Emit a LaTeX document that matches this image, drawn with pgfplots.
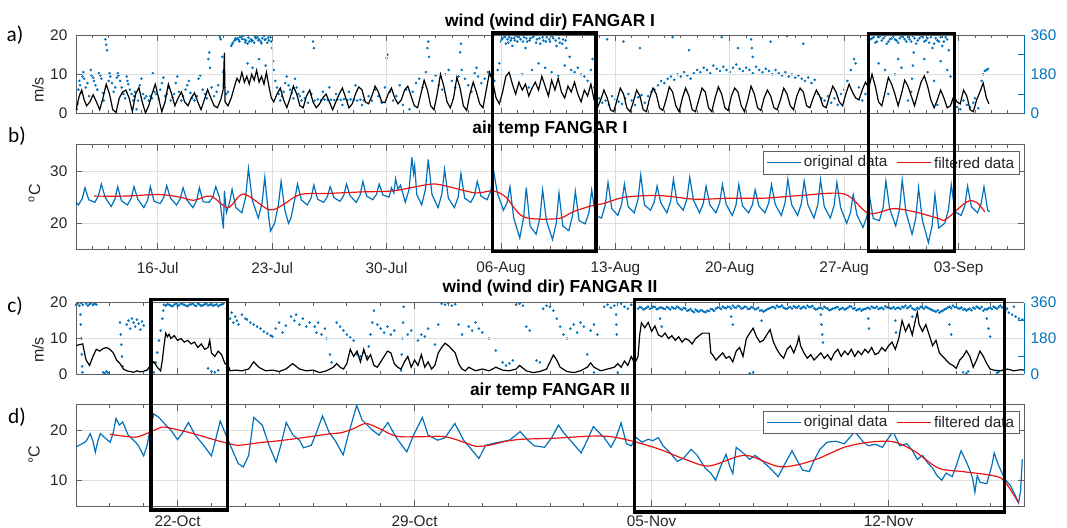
\documentclass[border=0pt]{standalone}
\usepackage{pgfplots}
\pgfplotsset{compat=1.18}
\usepackage{fontspec}
\setmainfont{Liberation Sans}
\newfontfamily\labelfont{Carlito}
\definecolor{mblue}{RGB}{0,114,189}
\definecolor{fred}{RGB}{235,20,20}
\definecolor{axgray}{RGB}{95,95,95}
\definecolor{gridgray}{RGB}{222,222,222}
\definecolor{labgray}{RGB}{38,38,38}

% legend of the temperature panels: frame, two line samples and their labels
\newcommand{\templegend}[1]{%
  \node[anchor=north east, draw=axgray, line width=0.5pt, fill=white,
        minimum height=17pt, minimum width=192pt, inner sep=0pt] (#1box) at (rel axis cs:0.9958,0.941) {};
  \draw[mblue, line width=0.9pt] ([xshift=3pt]#1box.west) -- ([xshift=28pt]#1box.west)
    node[right, inner sep=2pt, text=labgray, font=\fontsize{11.5}{13}\selectfont] (#1t) {original data};
  \draw[fred, line width=0.9pt] ([xshift=5pt]#1t.east) -- ([xshift=30pt]#1t.east)
    node[right, inner sep=2pt, text=labgray, font=\fontsize{11.5}{13}\selectfont] {filtered data};
}
\tikzset{ttl/.style={font=\bfseries\fontsize{13}{15}\selectfont, text=black}}
\pgfplotsset{
  panel/.style={
    scale only axis, width=711pt, anchor=north west,
    clip mode=individual,
    font=\fontsize{11.5}{13}\selectfont,
    /pgf/number format/assume math mode=true,
    axis line style={draw=axgray, line width=0.6pt},
    tick style={draw=axgray, line width=0.6pt},
    major tick length=4.5pt, minor tick length=2.5pt,
    tick label style={text=labgray},
    tick align=inside,
    grid style={draw=gridgray, line width=0.5pt},
  },
  leftax/.style={yticklabel style={xshift=-3pt}, xmajorgrids, ymajorgrids},
  days b/.style={xmin=-5, xmax=53, xtick={0,7,...,49}, minor xtick={-4,...,52}},
  days d/.style={xmin=-3, xmax=25, xtick={0,7,14,21}, minor xtick={-2,...,24}},
  dirax/.style={axis y line*=right, axis x line=none, xtick=\empty,
    ymin=0, ymax=360, ytick={0,90,...,360}, yticklabels={0,,180,,360},
    y axis line style={draw=mblue}, ytick style={draw=mblue},
    yticklabel style={text=mblue, xshift=1.5pt}},
  orig/.style={color=mblue, line width=0.9pt},
  filt/.style={color=fred, line width=0.9pt, smooth},
}

\begin{document}
\begin{tikzpicture}
\useasboundingbox (0,0) rectangle (800.25pt,396pt);

% ---------------- a) wind, FANGAR I ----------------
\begin{axis}[panel, dirax, xmin=-5, xmax=53, at={(57pt,369.75pt)}, height=59pt]
\addplot[only marks, mark=*, mark size=0.75pt, mblue] coordinates {
(-4.95,20)(-4.9,45)(-4.85,110)(-4.8,150)(-4.75,130)(-4.7,95)(-4.6,170)(-4.55,190)(-4.5,160)(-4.4,120)(-4.3,140)(-4.2,80)(-4.1,200)(-4.05,175)(-3.95,165)(-3.9,150)(-3.8,130)(-3.7,110)(-3.6,185)(-3.5,175)(-3.45,160)(-3.35,95)(-3.3,60)(-3.2,340)(-3.15,315)(-3.1,290)(-3.0,150)(-2.95,185)(-2.9,170)(-2.8,140)(-2.7,100)(-2.6,120)(-2.5,165)(-2.45,185)(-2.4,175)(-2.3,150)(-2.2,120)(-2.1,90)(-2.0,70)(-1.9,170)(-1.85,150)(-1.8,135)(-1.7,110)(-1.6,90)(-1.5,60)(-1.45,80)(-1.4,100)(-1.3,20)(-1.2,60)(-1.1,130)(-1.0,160)(-0.9,90)(-0.8,70)(-0.7,80)(-0.55,60)(-0.45,80)(-0.35,70)(-0.3,185)(-0.2,100)(-0.1,90)(0.05,70)(0.15,110)(0.25,140)(0.35,165)(0.45,80)(0.55,90)(0.65,120)(0.8,60)(0.9,75)(1.0,90)(1.1,140)(1.2,170)(1.3,100)(1.45,60)(1.55,80)(1.7,110)(1.8,130)(1.9,150)(2.0,95)(2.1,70)(2.25,60)(2.4,80)(2.5,160)(2.6,175)(2.75,110)(2.9,90)(3.0,70)(3.1,250)(3.15,280)(3.2,210)(3.3,120)(3.45,80)(3.6,100)(3.7,130)(3.8,350)(3.85,340)(3.95,260)(4.0,190)(4.1,120)(4.2,90)(4.3,100)
(4.5,310)(4.6,325)(4.7,335)(4.8,340)(4.9,345)(5.0,330)(5.1,350)(5.2,355)(5.3,340)(5.4,335)(5.5,320)(5.6,330)(5.7,340)(5.8,335)(5.9,325)(6.0,345)(6.1,350)(6.2,340)(6.3,330)(6.4,345)(6.5,355)(6.6,340)(6.7,325)(6.8,335)(6.9,350)(7.0,300)(5.5,230)(5.8,210)(6.2,250)(6.6,220)(7.05,240)(7.1,200)
(4.55,318)(4.75,345)(4.95,338)(5.15,342)(5.35,326)(5.55,348)(5.75,332)(5.95,352)(6.15,336)(6.35,322)(6.55,338)(6.75,348)(6.95,330)
(7.2,150)(7.3,120)(7.4,90)(7.5,60)(7.6,80)(7.7,100)(7.8,140)(7.9,170)(8.0,130)(8.1,110)(8.2,95)(8.3,70)(8.4,160)(8.5,120)(8.6,90)(8.7,80)(8.8,60)(8.9,100)
(9.0,70)(9.2,50)(9.4,90)(9.5,330)(9.55,300)(9.6,60)(9.8,65)(10.0,62)(10.2,65)(10.4,63)(10.6,64)(10.8,62)(11.0,65)(11.2,63)(11.4,66)(11.6,62)(11.8,65)(12.0,63)(12.2,60)(12.4,64)(12.6,61)(10.1,100)(10.5,120)(10.9,90)(11.3,40)(11.7,100)(12.1,130)(12.5,40)(12.9,80)(13.1,60)(13.3,110)
(13.5,80)(13.7,50)(13.9,120)(14.0,255)(14.05,270)(14.2,100)(14.4,60)(14.6,80)(14.8,130)(15.0,40)(15.2,110)(15.4,20)
(15.6,100)(15.8,140)(16.0,160)(16.2,120)(16.4,190)(16.5,300)(16.55,330)(16.6,260)(16.8,150)(17.0,175)(17.2,130)(17.4,110)(17.6,180)(17.8,200)(18.0,150)(18.2,120)(18.4,170)(18.5,280)(18.55,320)(18.6,200)(18.8,160)(19.0,130)(19.2,100)(19.4,185)(19.5,210)(19.6,170)(19.8,140)(20.0,160)(20.2,190)(20.4,180)(20.6,150)(20.8,200)(20.9,230)
(21.0,330)(21.1,345)(21.2,355)(21.3,320)(21.4,340)(21.5,350)(21.6,335)(21.7,310)(21.8,345)(21.9,355)(22.0,330)(22.2,340)(22.4,350)(22.5,300)(22.6,330)(22.8,345)(23.0,355)(23.2,340)(23.4,320)(23.6,335)(23.8,350)(24.0,330)(24.2,345)(24.4,310)(24.6,325)(24.8,340)(25.0,300)(25.2,260)(22.3,180)(22.9,200)(23.3,230)(23.7,210)(24.1,190)(24.5,175)(24.9,220)(25.3,200)(25.5,190)(25.7,210)(25.9,180)(26.1,170)(26.3,150)(26.5,200)(26.6,250)(26.7,120)(26.8,60)(26.9,40)(22.7,120)(23.9,90)
(21.05,340)(21.25,350)(21.45,325)(21.65,345)(21.85,335)(22.1,350)(22.35,330)(22.55,345)(22.75,335)(22.95,350)(23.15,325)(23.35,345)(23.55,350)(23.75,330)(23.95,340)(24.15,355)(24.35,335)(24.55,345)(24.75,320)(24.95,335)
(27.0,70)(27.2,50)(27.4,60)(27.6,40)(27.8,80)(28.0,65)(28.2,55)(28.4,45)(28.6,70)(28.8,90)(29.0,60)(29.2,40)(29.4,75)(29.6,85)(29.8,50)(27.5,340)(28.5,330)(29.5,300)
(30.0,80)(30.2,100)(30.4,110)(30.6,130)(30.8,150)(31.0,140)(31.2,160)(31.4,170)(31.6,155)(31.8,180)(32.0,170)(32.2,190)(32.4,175)(32.6,160)(32.8,185)(33.0,200)(31.5,350)(32.5,290)
(33.2,190)(33.4,210)(33.6,200)(33.8,185)(34.0,220)(34.2,205)(34.4,195)(34.6,215)(34.8,200)(35.0,190)(35.2,210)(35.4,225)(35.6,205)(35.8,195)(36.0,210)(36.2,200)(36.4,185)(36.6,215)(36.8,200)(37.0,190)(37.2,205)(37.4,195)(37.6,180)(37.8,200)(38.0,185)(38.2,175)(38.4,190)(38.6,170)(38.8,180)(39.0,165)(39.2,175)(39.4,160)(39.6,150)(39.8,165)(40.0,140)(40.2,155)(34.5,350)(35.5,300)(36.3,340)(36.35,300)(36.4,260)(37.5,330)(38.5,355)(39.5,320)(40.4,90)(40.6,70)
(40.8,60)(41.0,80)(41.2,50)(41.4,70)(41.6,40)(41.8,90)(42.0,110)(42.2,150)(42.4,200)(42.6,250)(42.7,230)(42.9,120)(43.1,60)(43.3,90)
(43.6,340)(43.8,350)(44.0,330)(44.2,355)(44.4,345)(44.6,320)(44.8,340)(45.0,355)(45.2,335)(45.4,345)(45.6,350)(45.8,330)(46.0,340)(46.2,355)(46.4,320)(46.6,345)(46.8,350)(47.0,335)(47.2,325)(47.4,300)(47.6,345)(47.8,330)(48.0,310)(48.2,350)(48.4,290)(44.1,230)(44.5,200)(45.1,180)(45.3,250)(45.5,210)(46.1,100)(46.15,160)(46.2,220)(46.25,280)(46.9,250)(47.1,190)(47.5,150)(47.9,240)(48.3,200)(48.5,170)(44.7,90)(45.9,60)(47.7,40)
(43.7,345)(43.9,325)(44.1,350)(44.3,335)(44.5,355)(44.7,330)(44.9,345)(45.1,340)(45.3,325)(45.5,355)(45.7,340)(45.9,350)(46.1,330)(46.3,345)(46.5,335)(46.7,355)(46.9,330)(47.1,345)(47.3,350)(47.5,320)(47.7,335)(47.9,350)(48.1,330)(48.3,340)
(48.7,50)(48.9,30)(49.1,20)(49.3,60)(49.5,40)(49.7,30)(49.9,50)(50.0,70)(50.2,25)(50.4,150)(50.5,180)(50.6,195)(50.7,200)(50.8,205)
};
\end{axis}

\begin{axis}[panel, leftax, days b, at={(57pt,369.75pt)}, height=59pt,
  axis y line*=left, ymin=0, ymax=20, ytick={0,10,20}, xticklabels={}]
\addplot[black, line width=0.9pt] coordinates {
(-5.0,1.0)(-4.8,4.5)(-4.65,6.0)(-4.5,3.5)(-4.35,2.0)(-4.15,3.0)(-3.95,4.8)(-3.75,3.0)(-3.55,1.0)(-3.35,4.0)(-3.15,7.5)(-2.95,5.0)(-2.75,1.0)(-2.55,0.3)(-2.35,4.0)(-2.15,5.5)(-1.95,6.0)(-1.75,4.0)(-1.55,0.5)(-1.35,5.0)(-1.15,6.6)(-0.95,3.0)(-0.75,0.2)(-0.55,2.0)(-0.35,5.0)(-0.15,7.5)(0.05,4.0)(0.25,0.5)(0.45,3.0)(0.65,7.5)(0.85,5.0)(1.05,2.0)(1.25,4.0)(1.45,5.5)(1.65,3.0)(1.85,2.0)(2.05,4.0)(2.25,5.3)(2.45,3.0)(2.65,1.0)(2.85,3.5)(3.05,6.1)(3.25,4.0)(3.45,2.0)(3.65,1.5)(3.85,3.5)(4.0,6.0)(4.08,15.5)(4.12,3.0)(4.3,2.0)(4.5,4.0)(4.7,7.0)(4.85,9.0)(5.0,8.0)(5.15,10.5)(5.3,8.0)(5.45,9.5)(5.6,7.5)(5.75,10.0)(5.9,8.5)(6.05,11.0)(6.2,8.0)(6.35,9.5)(6.5,7.5)(6.65,10.5)(6.8,7.0)(6.95,4.0)(7.1,3.0)(7.3,5.0)(7.5,6.5)(7.7,3.5)(7.9,1.5)(8.1,4.0)(8.3,7.0)(8.5,5.0)(8.7,2.0)(8.9,1.5)(9.1,4.5)(9.3,6.0)(9.5,3.0)(9.7,1.5)(9.9,2.5)(10.1,4.0)(10.3,5.0)(10.5,3.0)(10.7,1.0)(10.9,3.0)(11.1,5.0)(11.3,6.5)(11.5,4.0)(11.7,1.5)(11.9,2.5)(12.1,5.0)(12.3,6.8)(12.5,6.0)(12.7,3.0)(12.9,2.5)(13.1,4.5)(13.3,7.0)(13.5,5.5)(13.7,3.0)(13.9,2.8)(14.1,5.0)(14.3,6.5)(14.5,4.0)(14.7,2.5)(14.9,3.5)(15.1,6.0)(15.3,7.0)(15.5,4.5)(15.7,2.0)(15.9,1.5)(16.1,5.0)(16.3,8.5)(16.5,6.0)(16.7,2.0)(16.9,1.0)(17.1,5.0)(17.3,10.0)(17.5,7.0)(17.7,3.0)(17.9,1.5)(18.1,4.0)(18.3,9.2)(18.5,6.5)(18.7,2.0)(18.9,0.8)(19.1,5.0)(19.3,8.0)(19.5,5.5)(19.7,2.5)(19.9,1.5)(20.1,6.0)(20.3,10.5)(20.5,8.0)(20.7,4.0)(20.9,2.5)
(21.1,5.5)(21.3,9.5)(21.5,10.5)(21.7,7.5)(21.9,5.0)(22.1,8.0)(22.3,6.0)(22.5,7.5)(22.7,4.5)(22.9,6.5)(23.1,8.0)(23.3,6.0)(23.5,9.5)(23.7,7.0)(23.9,4.5)(24.1,8.5)(24.3,6.0)(24.5,9.0)(24.7,5.5)(24.9,4.0)(25.1,7.0)(25.3,5.5)(25.5,8.0)(25.7,5.0)(25.9,3.0)(26.1,6.0)(26.3,4.5)(26.5,7.5)(26.7,3.5)(26.9,1.5)(27.1,3.5)(27.3,6.0)(27.5,4.0)(27.7,1.0)(27.9,0.5)(28.1,3.5)(28.3,6.5)(28.5,5.0)(28.7,1.5)(28.9,0.5)(29.1,3.0)(29.3,6.0)(29.5,4.5)(29.7,1.0)(29.9,0.5)(30.1,4.0)(30.3,6.5)(30.5,5.0)(30.7,1.5)(30.9,0.8)(31.1,3.5)(31.3,6.8)(31.5,5.5)(31.7,2.0)(31.9,0.5)(32.1,4.0)(32.3,6.5)(32.5,4.5)(32.7,1.0)(32.9,0.5)(33.1,3.5)(33.3,6.5)(33.5,5.5)(33.7,1.5)(33.9,0.5)(34.1,4.0)(34.3,6.8)(34.5,5.0)(34.7,1.5)(34.9,0.8)(35.1,4.5)(35.3,6.5)(35.5,5.5)(35.7,2.0)(35.9,0.5)(36.1,3.5)(36.3,7.0)(36.5,5.0)(36.7,1.5)(36.9,0.8)(37.1,4.0)(37.3,6.0)(37.5,4.5)(37.7,1.5)(37.9,1.0)(38.1,3.5)(38.3,6.5)(38.5,5.0)(38.7,2.0)(38.9,1.0)(39.1,4.5)(39.3,6.5)(39.5,5.5)(39.7,2.0)(39.9,1.5)(40.1,4.0)(40.3,6.0)(40.5,4.5)(40.7,2.0)(40.9,1.5)(41.1,4.5)(41.3,7.0)(41.5,5.5)(41.7,3.0)(41.9,2.0)(42.1,5.0)(42.3,7.5)(42.5,5.5)(42.7,4.0)(42.9,3.5)(43.1,6.0)(43.3,8.0)(43.5,6.5)(43.7,10.0)(43.9,7.0)(44.1,3.0)(44.3,2.0)(44.5,5.5)(44.7,9.2)(44.9,7.5)(45.1,5.0)(45.3,2.0)(45.5,5.0)(45.7,8.5)(45.9,7.0)(46.1,4.5)(46.3,2.0)(46.5,5.0)(46.7,8.0)(46.9,9.6)(47.1,7.0)(47.3,3.5)(47.5,1.5)(47.7,3.5)(47.9,6.0)(48.1,4.0)(48.3,1.5)(48.5,2.0)(48.7,4.5)(48.9,3.0)(49.1,2.5)(49.3,6.0)(49.5,4.5)(49.7,1.0)(49.9,0.5)(50.1,3.5)(50.3,5.5)(50.5,7.8)(50.7,4.0)(50.85,2.5)
};
\node[ttl] at (rel axis cs:0.5,1) [yshift=9.75pt] {wind (wind dir) FANGAR I};
\end{axis}

% ---------------- b) air temperature, FANGAR I ----------------
\begin{axis}[panel, leftax, days b, at={(57pt,287.4pt)}, height=78.5pt,
  xticklabel style={yshift=-6pt},
  ymin=15, ymax=35, ytick={20,30},
  xticklabels={16-Jul,23-Jul,30-Jul,06-Aug,13-Aug,20-Aug,27-Aug,03-Sep}]
\addplot[orig] coordinates {
(-5.00,24.0)(-4.85,23.5)(-4.62,24.7)(-4.45,26.8)(-4.22,24.5)(-3.85,24.0)(-3.62,25.3)(-3.45,27.5)(-3.22,25.0)(-2.85,23.2)(-2.62,24.6)(-2.45,27.0)(-2.22,24.3)(-1.85,23.5)(-1.62,24.8)(-1.45,27.0)(-1.22,24.6)(-0.85,23.0)(-0.62,24.4)(-0.45,27.0)(-0.22,24.2)
(0.15,23.8)(0.38,25.0)(0.55,27.2)(0.78,24.8)(1.15,23.5)(1.38,24.7)(1.55,26.8)(1.78,24.5)(2.15,23.0)(2.38,24.3)(2.55,26.8)(2.78,24.1)(3.15,24.0)(3.38,25.1)(3.55,27.0)(3.78,24.9)
(4.02,19.0)(4.08,26.2)(4.20,22.0)(4.40,24.0)(4.55,26.5)(4.78,23.0)(5.15,22.0)(5.38,25.0)(5.55,30.5)(5.78,24.5)(6.15,21.0)(6.38,23.8)(6.55,28.8)(6.78,21.5)(6.90,18.5)(7.15,20.0)(7.38,23.5)(7.55,28.0)(7.78,22.5)(8.00,20.0)(8.15,21.0)(8.38,24.5)(8.55,27.5)(8.78,24.5)
(9.15,23.5)(9.38,24.8)(9.55,27.3)(9.78,24.6)(10.15,24.0)(10.38,25.1)(10.55,27.0)(10.78,24.9)(11.15,24.2)(11.38,25.3)(11.55,27.5)(11.78,25.2)(12.15,24.0)(12.38,25.4)(12.55,28.0)(12.78,25.2)(13.15,24.5)(13.38,25.5)(13.55,27.5)(13.78,25.4)
(14.15,25.0)(14.30,26.8)(14.45,25.8)(14.55,28.5)(14.70,26.5)(14.85,27.3)(15.15,24.0)(15.38,26.5)(15.55,32.6)(15.65,29.5)(15.72,31.0)(15.85,25.5)(16.15,23.5)(16.38,26.5)(16.55,32.2)(16.78,25.5)(17.15,23.0)(17.38,25.5)(17.55,30.3)(17.78,24.8)(18.15,23.0)(18.38,25.0)(18.55,29.5)(18.78,24.8)(19.15,24.0)(19.38,25.3)(19.55,28.0)(19.78,25.2)(20.15,24.5)(20.38,26.2)(20.55,30.0)(20.78,25.8)
(21.15,22.5)(21.38,24.0)(21.55,27.0)(21.78,21.0)(22.15,17.2)(22.38,21.0)(22.55,26.8)(22.78,19.5)(23.15,17.9)(23.38,21.0)(23.55,26.4)(23.78,20.5)(24.15,16.9)(24.38,20.0)(24.55,25.8)(24.78,19.5)(25.15,18.6)(25.38,21.5)(25.55,26.1)(25.78,20.5)(26.15,19.9)(26.38,22.0)(26.55,26.4)(26.78,21.5)
(27.15,21.0)(27.38,23.5)(27.55,27.8)(27.78,22.8)(28.15,21.5)(28.38,23.6)(28.55,27.5)(28.78,23.2)(29.15,22.0)(29.38,24.5)(29.55,29.2)(29.78,23.5)(30.15,22.5)(30.38,24.1)(30.55,27.1)(30.78,23.9)(31.15,22.0)(31.38,24.2)(31.55,28.4)(31.78,23.9)(32.15,22.5)(32.38,24.7)(32.55,28.8)(32.78,24.4)
(33.15,22.0)(33.38,23.8)(33.55,27.1)(33.78,23.5)(34.15,22.0)(34.38,23.9)(34.55,27.4)(34.78,23.6)(35.15,21.5)(35.38,23.5)(35.55,27.4)(35.78,23.3)(36.15,22.0)(36.38,23.5)(36.55,26.4)(36.78,23.3)(37.15,22.0)(37.38,23.9)(37.55,27.4)(37.78,23.6)(38.15,21.5)(38.38,23.9)(38.55,28.4)(38.78,23.6)
(39.15,21.5)(39.38,23.8)(39.55,28.1)(39.78,23.5)(40.15,21.0)(40.38,23.5)(40.55,28.3)(40.78,23.2)(41.15,21.0)(41.38,23.4)(41.55,27.8)(41.78,23.0)(42.15,20.0)(42.38,22.0)(42.55,25.5)(42.78,21.6)(43.15,19.2)(43.38,21.2)(43.55,25.1)(43.78,20.9)
(44.15,20.5)(44.38,23.0)(44.55,28.1)(44.78,22.8)(45.15,19.5)(45.38,22.6)(45.55,28.3)(45.78,22.1)(46.15,17.9)(46.38,21.0)(46.55,26.8)(46.78,20.6)(47.15,16.3)(47.38,19.6)(47.55,25.5)(47.78,19.1)(48.15,20.0)(48.38,22.6)(48.55,27.4)(48.78,22.2)(49.15,21.5)(49.38,23.4)(49.55,27.1)(49.78,23.2)(50.15,22.0)(50.38,23.8)(50.55,27.0)(50.78,22.5)(50.90,22.2)
};
\addplot[filt] coordinates {
(-3.9,25.2)(-2.0,25.2)(0.1,25.5)(1.35,25.0)(2.2,24.4)(3.25,25.2)(4.3,23.0)(5.25,25.6)(6.8,22.6)(7.65,23.5)(8.7,25.5)(10.4,25.7)(12.5,26.0)(14.4,26.2)(16.3,27.3)(17.0,27.5)(17.8,27.0)(19.45,25.8)(20.5,26.2)(21.3,25.0)(22.4,21.2)(24.5,20.9)(25.4,22.2)(26.5,23.3)(27.3,23.8)(28.6,25.0)(30.7,25.3)(32.9,24.6)(35.0,24.8)(37.1,24.8)(39.3,25.3)(42.0,25.6)(43.5,21.9)(45.0,22.8)(46.3,22.2)(47.8,20.9)(48.2,20.7)(49.5,24.1)(50.1,24.0)(50.6,22.2)
};
\templegend{lb}
\node[ttl] at (rel axis cs:0.5,1) [yshift=12.2pt] {air temp FANGAR I};
\coordinate (r1a) at (axis cs:20.47,14.6);
\coordinate (r1b) at (axis cs:26.8,56.4);
\coordinate (r2a) at (axis cs:43.5,14.6);
\coordinate (r2b) at (axis cs:48.75,56.3);
\end{axis}

% ---------------- c) wind, FANGAR II ----------------
\begin{axis}[panel, dirax, xmin=-3, xmax=25, at={(57pt,169.0pt)}, height=53.8pt]
\addplot[only marks, mark=*, mark size=0.75pt, mblue] coordinates {
(-3.0,350)(-2.95,355)(-2.9,345)(-2.85,358)(-2.8,350)(-2.7,355)(-2.65,345)(-2.6,352)(-2.55,358)(-2.5,348)(-2.45,355)(-2.4,350)(-2.87,300)(-2.86,250)(-2.84,180)(-2.83,100)(-2.82,40)(-2.81,10)(-2.2,10)(-2.15,5)(-2.1,15)(-2.05,8)(-1.7,260)(-1.68,200)(-1.66,150)(-1.64,90)(-1.62,40)
(-1.5,250)(-1.45,270)(-1.4,230)(-1.35,280)(-1.3,260)(-1.25,240)(-1.2,275)(-1.15,255)(-1.1,225)(-1.05,265)(-1.0,245)(-0.7,10)(-0.65,60)(-0.6,110)(-0.55,170)(-0.5,220)(-0.45,280)(-0.42,320)(-0.4,350)
(-0.35,345)(-0.25,350)(-0.15,342)(-0.05,355)(0.05,348)(0.15,352)(0.25,345)(0.35,350)(0.45,355)(0.55,343)(0.65,350)(0.75,347)(0.85,355)(0.95,350)(1.05,345)(1.15,352)(1.25,348)(1.35,355)(0.9,30)(1.0,15)(1.1,10)(1.2,20)
(-0.3,352)(-0.2,346)(-0.1,350)(0.0,344)(0.1,356)(0.2,349)(0.3,342)(0.4,351)(0.5,347)(0.6,355)(0.7,344)(0.8,351)(0.9,346)(1.0,353)(1.1,348)(1.2,342)(1.3,350)
(1.45,330)(1.5,300)(1.55,280)(1.6,310)(1.65,260)(1.7,290)(1.75,270)(1.8,250)(1.9,300)(2.0,280)(2.05,275)(2.15,260)(2.25,250)(2.35,240)(2.45,230)(2.55,215)(2.65,205)(2.75,195)(2.8,190)(2.9,230)(3.0,260)(3.1,210)(3.2,245)
(3.35,290)(3.45,270)(3.5,300)(3.6,250)(3.7,280)(3.8,240)(3.9,260)(4.05,240)(4.1,210)(4.15,260)(4.25,200)(4.35,230)(4.4,180)(4.5,100)(4.55,60)(4.7,260)(4.8,240)(4.9,220)(5.0,200)(5.1,185)(5.2,170)(5.3,100)(5.4,90)(5.5,110)
(5.6,90)(5.65,140)(5.7,200)(5.75,260)(5.8,320)(5.9,250)(6.0,230)(6.1,210)(6.2,240)(6.3,200)(6.4,220)(6.6,20)(6.62,100)(6.64,180)(6.66,260)(6.68,340)(6.8,200)(6.9,220)(7.0,180)(7.1,170)(7.2,200)(7.3,190)(7.4,230)
(7.6,150)(7.7,250)(7.8,355)(7.9,350)(8.0,358)(8.1,345)(8.2,352)(8.3,250)(8.4,200)(8.6,240)(8.7,220)(8.8,260)(8.9,230)(9.0,210)(9.2,180)(9.4,120)(9.6,60)(9.7,45)(9.8,55)(9.9,70)(10.0,350)(10.1,355)(10.2,345)(10.3,240)(10.4,220)
(10.6,70)(10.7,60)(10.8,330)(10.9,345)(11.0,340)(11.1,320)(11.2,280)(11.3,240)(11.4,200)(11.5,180)(11.6,230)(11.7,250)(11.8,210)(11.9,260)(12.0,240)(12.1,100)(12.2,220)(12.3,250)(12.4,200)
(12.6,340)(12.7,350)(12.8,335)(12.9,345)(12.95,300)(12.96,250)(12.97,200)(13.1,355)(13.2,340)(13.3,330)(13.4,350)(13.5,345)
(13.6,330)(13.7,335)(13.8,328)(13.9,340)(14.0,332)(14.1,338)(14.2,330)(14.3,335)(14.4,328)(14.5,333)(14.6,338)(14.7,330)(14.8,335)(14.9,325)(15.0,330)(15.1,322)(15.2,318)(15.3,325)(15.4,315)(15.5,320)(15.6,312)(15.7,318)(15.8,325)(15.9,330)(16.0,335)(16.1,340)(16.2,332)(16.3,338)(16.4,345)(16.5,335)(16.6,340)(16.7,332)(16.8,338)(16.9,330)(17.0,335)(17.1,328)(17.2,320)(17.3,315)(17.4,325)(17.5,332)(17.6,338)(17.7,345)(17.8,340)(17.9,335)(18.0,330)(18.1,338)(18.2,342)(18.3,335)(18.4,330)(18.5,340)(18.6,345)(18.7,338)(18.8,332)(18.9,328)
(19.0,335)(19.1,340)(19.2,330)(19.3,325)(19.4,332)(19.5,338)(19.6,330)(19.7,325)(19.8,335)(19.9,340)(20.0,332)(20.1,326)(20.2,320)(20.3,328)(20.4,335)(20.5,340)(20.6,333)(20.7,328)(20.8,335)(20.9,342)(21.0,338)(21.1,332)(21.2,328)(21.3,335)(21.4,340)(21.5,345)(21.6,338)(21.7,332)(21.8,325)(21.9,330)(22.0,336)(22.1,340)(22.2,330)(22.3,322)(22.4,315)(22.5,310)(22.6,320)(22.7,330)(22.8,340)(22.9,345)(23.0,338)(23.1,330)(23.2,325)(23.3,320)(23.4,330)(23.5,335)(23.6,340)(23.7,330)(23.8,320)(23.9,325)(24.0,335)(24.1,340)(24.2,330)(24.3,345)
(13.65,338)(13.75,326)(13.85,334)(13.95,329)(14.05,340)(14.15,327)(14.25,336)(14.35,330)(14.45,338)(14.55,326)(14.65,332)(14.75,340)(14.85,328)(14.95,334)(15.05,320)(15.15,328)(15.25,312)(15.35,318)(15.45,322)(15.55,314)(15.65,320)(15.75,328)(15.85,318)(15.95,336)(16.05,328)(16.15,334)(16.25,340)(16.35,330)(16.45,336)(16.55,344)(16.65,330)(16.75,340)(16.85,328)(16.95,338)(17.05,326)(17.15,334)(17.25,322)(17.35,320)(17.45,330)(17.55,338)(17.65,332)(17.75,338)(17.85,346)(17.95,330)(18.05,336)(18.15,330)(18.25,336)(18.35,342)(18.45,336)(18.55,332)(18.65,338)(18.75,344)(18.85,326)(18.95,334)
(19.05,328)(19.15,334)(19.25,322)(19.35,330)(19.45,336)(19.55,326)(19.65,334)(19.75,330)(19.85,342)(19.95,330)(20.05,322)(20.15,330)(20.25,326)(20.35,332)(20.45,328)(20.55,334)(20.65,340)(20.75,332)(20.85,328)(20.95,336)(21.05,330)(21.15,338)(21.25,334)(21.35,328)(21.45,336)(21.55,332)(21.65,344)(21.75,326)(21.85,334)(21.95,340)(22.05,330)(22.15,334)(22.25,326)(22.35,318)(22.45,322)(22.55,316)(22.65,326)(22.75,336)(22.85,332)(22.95,338)(23.05,332)(23.15,336)(23.25,328)(23.35,326)(23.45,322)(23.55,330)(23.65,334)(23.75,338)(23.85,328)(23.95,332)(24.05,328)(24.15,334)(24.25,338)(24.35,336)
(14.25,280)(14.3,240)(16.35,290)(16.4,250)(17.25,270)(19.0,300)(19.02,250)(19.04,200)(19.06,160)(20.4,280)(20.42,230)(21.2,270)(21.22,210)(22.8,250)(22.85,200)(23.2,10)(23.3,5)(23.35,15)(23.9,280)(23.95,230)(24.0,190)(24.2,8)(24.25,12)(16.9,5)(17.0,10)(12.3,10)(13.0,8)(21.7,290)
(24.45,320)(24.55,310)(24.65,300)(24.75,290)(24.85,280)(24.95,275)(24.5,330)(24.7,340)
};
\end{axis}

\begin{axis}[panel, leftax, days d, at={(57pt,169.0pt)}, height=53.8pt,
  axis y line*=left, ymin=0, ymax=20, ytick={0,10,20}, xticklabels={}]
\addplot[black, line width=0.9pt] coordinates {
(-3.0,8.0)(-2.9,8.3)(-2.8,8.5)(-2.75,6.0)(-2.7,4.0)(-2.6,2.5)(-2.5,5.0)(-2.4,7.0)(-2.3,6.5)(-2.2,7.2)(-2.1,7.5)(-2.0,7.0)(-1.9,6.0)(-1.8,4.0)(-1.7,3.0)(-1.6,1.5)(-1.5,1.0)(-1.4,0.8)(-1.3,0.6)(-1.2,1.0)(-1.1,0.7)(-1.0,0.9)(-0.9,1.2)(-0.8,2.5)(-0.7,3.5)(-0.6,2.0)(-0.5,1.0)(-0.45,4.0)(-0.4,8.0)(-0.35,11.5)(-0.3,10.5)(-0.25,11.2)(-0.2,10.0)(-0.1,10.8)(0.0,9.5)(0.1,10.0)(0.2,9.0)(0.3,9.5)(0.4,8.5)(0.5,9.0)(0.6,7.5)(0.7,8.5)(0.8,7.0)(0.9,7.5)(0.95,9.5)(1.0,6.0)(1.1,5.0)(1.2,6.5)(1.3,5.5)(1.4,3.0)(1.5,2.5)(1.55,1.0)(1.7,1.2)(1.9,1.0)(2.1,1.5)(2.25,3.5)(2.4,2.0)(2.6,1.0)(2.8,1.2)(3.0,0.8)(3.2,1.5)(3.4,3.0)(3.6,1.5)(3.8,1.0)(4.0,1.2)(4.2,0.5)(4.4,1.0)(4.6,2.0)(4.7,3.0)(4.8,2.0)(4.9,1.5)
(5.0,3.0)(5.1,7.0)(5.2,5.0)(5.3,6.5)(5.4,3.5)(5.5,7.0)(5.6,4.0)(5.7,5.5)(5.8,2.5)(5.9,2.0)(6.0,3.5)(6.1,5.0)(6.2,6.5)(6.3,6.0)(6.4,3.0)(6.5,2.0)(6.6,1.5)(6.7,3.5)(6.8,5.0)(6.9,2.0)(7.0,4.0)(7.1,2.5)(7.2,5.5)(7.3,2.0)(7.4,3.5)(7.5,1.5)(7.6,2.5)(7.7,6.0)(7.8,7.5)(7.9,8.7)(8.0,8.0)(8.1,7.0)(8.2,6.0)(8.3,3.0)(8.4,1.5)(8.5,1.0)(8.6,2.0)(8.8,1.0)(9.0,1.5)(9.2,1.0)(9.4,2.0)(9.6,1.2)(9.8,1.0)(10.0,1.5)(10.1,2.5)(10.3,1.0)(10.5,0.5)(10.7,0.8)(10.9,1.5)(11.0,3.5)(11.1,5.4)(11.2,4.0)(11.3,2.0)(11.5,0.8)(11.7,0.5)(11.9,1.0)(12.1,2.0)(12.2,3.2)(12.3,2.0)(12.5,1.0)(12.7,1.5)(12.9,2.0)(13.0,3.0)(13.1,2.0)(13.2,3.7)(13.3,2.5)(13.4,5.0)(13.5,3.0)(13.6,5.0)
(13.65,11.0)(13.7,14.4)(13.8,13.0)(13.9,14.5)(14.0,12.0)(14.1,13.5)(14.2,11.0)(14.3,10.5)(14.4,11.5)(14.5,10.0)(14.6,10.8)(14.7,9.5)(14.8,10.5)(14.9,9.0)(15.0,10.0)(15.1,9.5)(15.2,8.5)(15.3,10.0)(15.5,11.5)(15.7,11.5)(15.75,6.0)(15.8,5.5)(15.9,4.0)(16.0,5.0)(16.1,6.0)(16.2,4.5)(16.3,5.0)(16.4,3.5)(16.5,6.5)(16.6,7.5)(16.7,5.0)(16.8,10.0)(16.9,11.5)(17.0,12.9)(17.1,10.5)(17.2,9.0)(17.3,9.5)(17.4,11.0)(17.5,12.5)(17.6,9.0)(17.7,7.0)(17.8,5.5)(17.9,4.5)(18.0,7.0)(18.1,8.0)(18.2,6.0)(18.3,8.5)(18.35,10.5)(18.4,8.0)(18.5,6.0)(18.6,4.5)(18.7,5.5)(18.8,4.0)(18.9,5.0)
(19.0,6.0)(19.1,4.5)(19.2,5.5)(19.3,4.0)(19.4,6.0)(19.5,7.0)(19.6,5.0)(19.7,6.5)(19.8,5.5)(19.9,7.0)(20.0,5.0)(20.1,6.5)(20.2,5.5)(20.3,7.0)(20.4,6.0)(20.5,7.5)(20.6,5.5)(20.7,6.0)(20.8,7.5)(20.9,6.5)(21.0,8.0)(21.1,9.0)(21.2,7.0)(21.3,10.0)(21.4,15.0)(21.5,12.0)(21.6,14.0)(21.7,11.0)(21.8,15.5)(21.85,17.3)(21.9,14.0)(22.0,12.0)(22.1,13.9)(22.2,11.0)(22.3,8.0)(22.4,9.5)(22.5,6.0)(22.6,5.0)(22.7,4.0)(22.8,3.0)(22.9,2.5)(23.0,1.7)(23.1,4.0)(23.2,5.0)(23.3,6.6)(23.4,5.0)(23.5,2.0)(23.6,4.0)(23.7,6.5)(23.8,5.0)(23.9,3.0)(24.0,1.5)(24.1,1.2)(24.3,1.0)(24.5,1.5)(24.7,1.0)(24.9,1.3)(25.0,1.2)
};
\node[ttl] at (rel axis cs:0.5,1) [yshift=10.7pt] {wind (wind dir) FANGAR II};
\end{axis}

% ---------------- d) air temperature, FANGAR II ----------------
\begin{axis}[panel, leftax, days d, at={(57pt,92.4pt)}, height=75.9pt,
  xticklabel style={yshift=-3.5pt},
  ymin=5, ymax=25, ytick={10,20},
  xticklabels={22-Oct,29-Oct,05-Nov,12-Nov}]
\addplot[orig] coordinates {
(-3.00,16.7)(-2.85,17.2)(-2.70,17.8)(-2.58,19.3)(-2.50,17.8)(-2.43,15.6)(-2.35,18.0)(-2.28,19.3)(-2.15,18.5)(-1.99,17.6)(-1.90,19.5)(-1.82,22.3)(-1.72,21.0)(-1.62,21.6)(-1.46,19.0)(-1.30,18.0)(-1.16,17.0)(-1.00,14.9)(-0.90,17.0)(-0.80,20.5)(-0.70,23.2)(-0.55,22.5)(-0.35,21.0)(-0.20,20.0)
(0.00,18.1)(0.15,19.5)(0.32,21.5)(0.52,19.0)(0.77,17.0)(1.00,14.9)(1.12,18.0)(1.26,21.8)(1.43,19.0)(1.59,16.5)(1.79,13.4)(1.94,12.7)(2.10,15.0)(2.25,22.5)(2.50,21.0)(2.70,17.0)(2.91,13.7)(3.05,17.0)(3.21,21.5)(3.41,19.0)(3.60,18.0)(3.72,16.5)(3.95,17.0)(4.10,19.5)(4.28,22.8)(4.48,19.5)(4.65,18.0)(4.89,15.1)
(5.04,19.0)(5.29,24.9)(5.45,22.0)(5.75,20.0)(5.95,19.0)(6.21,21.5)(6.46,18.5)(6.77,15.7)(6.97,19.0)(7.23,22.5)(7.40,19.0)(7.68,18.0)(7.90,18.5)(8.19,21.3)(8.45,18.0)(8.70,16.0)(8.90,14.4)(9.10,17.0)(9.41,17.5)(9.80,18.0)
(10.12,19.7)(10.35,18.0)(10.53,16.9)(10.84,16.6)(11.05,18.5)(11.25,21.0)(11.40,19.5)(11.56,18.3)(11.92,15.5)(12.10,18.0)(12.28,20.7)(12.45,19.5)(12.59,18.6)(12.80,16.6)(12.95,18.5)(13.10,21.4)(13.26,17.3)(13.40,16.9)(13.55,18.5)(13.72,17.6)(13.90,18.2)(14.03,17.9)(14.20,18.5)(14.34,16.9)(14.55,15.5)(14.76,13.8)(14.95,14.5)
(15.17,16.2)(15.35,15.0)(15.58,12.5)(15.75,11.5)(15.89,10.1)(16.05,13.0)(16.20,15.2)(16.30,13.0)(16.40,11.4)(16.50,16.6)(16.70,15.5)(16.90,14.2)(17.05,15.0)(17.22,14.2)(17.50,12.5)(17.74,10.8)(17.95,13.5)(18.15,15.9)(18.30,14.0)(18.46,12.1)(18.66,11.8)(18.80,14.0)(18.97,16.2)(19.18,17.6)(19.45,17.8)(19.69,17.3)(19.85,18.5)
(20.00,19.7)(20.15,18.5)(20.26,17.6)(20.41,16.9)(20.60,17.2)(20.82,16.6)(20.95,18.0)(21.13,19.7)(21.33,16.9)(21.54,17.3)(21.70,16.0)(21.85,14.2)(22.00,15.0)(22.16,13.5)(22.30,12.5)(22.42,11.1)(22.57,10.1)(22.70,11.5)(22.88,10.8)(23.00,13.0)(23.14,15.9)(23.28,14.0)(23.40,12.1)(23.48,10.5)(23.55,7.7)(23.62,11.0)(23.70,9.7)(23.90,9.4)(24.05,13.0)(24.12,15.5)(24.25,13.0)(24.43,10.4)(24.60,9.0)(24.75,7.0)(24.84,5.6)(24.90,8.0)(24.95,14.2)
};
\addplot[filt] coordinates {
(-2.0,19.2)(-1.26,18.6)(-0.85,19.5)(-0.45,20.6)(-0.15,20.3)(0.47,19.3)(1.08,18.1)(1.48,17.4)(1.80,17.0)(2.40,17.5)(3.00,17.9)(3.70,18.5)(4.43,19.2)(4.84,19.5)(5.20,20.3)(5.55,21.3)(5.90,20.5)(6.46,18.8)(7.20,18.7)(7.89,18.7)(8.50,17.5)(8.80,16.8)(9.20,17.0)(9.70,17.8)(10.20,18.2)(11.15,18.4)(12.18,18.8)(12.80,18.7)(13.50,17.7)(14.24,16.2)(14.96,14.3)(15.68,12.9)(16.50,14.7)(16.90,14.9)(17.74,12.8)(18.35,13.2)(18.97,14.5)(19.69,16.6)(20.41,17.6)(21.13,17.7)(21.75,15.9)(22.47,12.5)(23.19,11.8)(24.00,11.1)(24.40,10.1)(24.84,5.6)
};
\templegend{ld}
\node[ttl] at (rel axis cs:0.5,1) [yshift=10.4pt] {air temp FANGAR II};
\coordinate (r3a) at (axis cs:-0.78,4.2);
\coordinate (r3b) at (axis cs:1.48,45.8);
\coordinate (r4a) at (axis cs:13.5,3.8);
\coordinate (r4b) at (axis cs:24.42,45.8);
\end{axis}

% highlighted periods
\draw[black, line width=2.6pt] (r1a) rectangle (r1b);
\draw[black, line width=2.6pt] (r2a) rectangle (r2b);
\draw[black, line width=2.6pt] (r3a) rectangle (r3b);
\draw[black, line width=2.6pt] (r4a) rectangle (r4b);

% panel letters and axis labels
\begin{scope}[font=\labelfont\fontsize{16}{18}\selectfont]
\node at (11.25pt,369.75pt) {a)};
\node at (12.75pt,294pt) {b)};
\node at (11.25pt,166.5pt) {c)};
\node at (12.75pt,83.25pt) {d)};
\end{scope}
\begin{scope}[font=\fontsize{12}{14}\selectfont, text=labgray]
\node[rotate=90] at (28.5pt,328.5pt) {m/s};
\node[rotate=90] at (25.8pt,250.9pt) {\textsuperscript{o}C};
\node[rotate=90] at (28.5pt,133.5pt) {m/s};
\node[rotate=90] at (25.5pt,54.75pt) {°C};
\end{scope}
\end{tikzpicture}
\end{document}
